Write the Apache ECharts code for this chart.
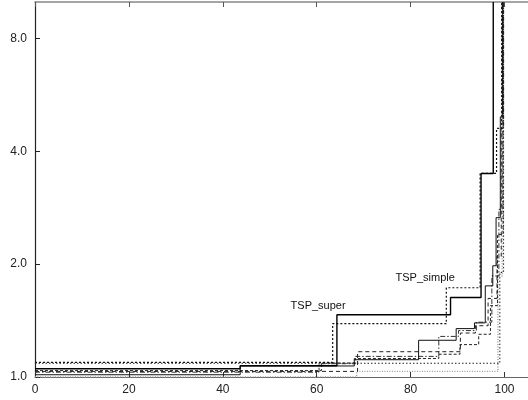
<!DOCTYPE html>
<html>
<head>
<meta charset="utf-8">
<script src="https://cdn.jsdelivr.net/npm/echarts@6/dist/echarts.min.js"></script>
<style>html,body{margin:0;padding:0;background:#fff}#c{width:528px;height:400px}</style>
</head>
<body>
<div id="c"></div>
<script>
// x: percentage of problems, y: performance ratio (log scale)
const xTicks = [0, 20, 40, 60, 80, 100];
const yTicks = [1, 2, 4, 8];
const tspSuper  = [[0,1.052],[43.7,1.072],[64.3,1.466],[88.5,1.63],[95.0,3.49],[97.6,10]];
const tspSimple = [[0,1.094],[63.4,1.387],[87.6,1.73],[94.8,3.49],[98.3,4.6],[99.4,10]];
const solidLow  = [[0,1.014],[43.7,1.07],[68.0,1.112],[81.7,1.253],[89.7,1.346],[93.6,1.394],[95.9,1.75],[97.5,1.98],[98.2,2.66],[99.1,4.94],[99.6,10]];
const dashedA   = [[0,1.035],[68.7,1.168],[90.6,1.31],[93.8,1.37],[96.5,1.62],[98.4,2.1],[99.3,4.6],[99.8,10]];
const dashDot   = [[0,1.03],[60.5,1.085],[68.3,1.135],[86.0,1.283],[90.2,1.33],[94.0,1.4],[97.3,1.86],[98.8,2.8],[99.5,10]];
const dashedB   = [[0,1.04],[61.0,1.09],[68.0,1.12],[86.0,1.15],[90.5,1.22],[94.5,1.3],[97.0,1.55],[98.5,2.4],[99.7,10]];
const dottedLow = [[0,1.088],[99.0,1.9],[99.8,10]];
const grayLine  = [[0,1.0],[68.5,1.035],[98.6,1.86],[99.5,10]];
const labelSuper  = {text: 'TSP_super',  at: [60.3, 1.546]};
const labelSimple = {text: 'TSP_simple', at: [83.1, 1.836]};

function mk(data, color, width, type, mark) {
  const s = {
    type: 'line', step: 'end', data: data, showSymbol: false, symbol: 'none',
    lineStyle: {color: color, width: width, type: type}, z: 2, silent: true
  };
  if (mark) {
    s.markPoint = {
      symbol: 'circle', symbolSize: 0, silent: true,
      data: [{coord: mark.at, value: mark.text}],
      label: {show: true, position: 'inside', formatter: mark.text,
              color: '#111', fontSize: 11, fontFamily: 'Liberation Sans, Arial, sans-serif'}
    };
  }
  return s;
}

const chart = echarts.init(document.getElementById('c'), null, {renderer: 'canvas'});
const lbl = {color: '#222', fontSize: 12, fontFamily: 'Liberation Sans, Arial, sans-serif'};
chart.setOption({
  animation: false,
  grid: {left: 35, right: 0, top: 2, bottom: 23, containLabel: false},
  xAxis: [{
    type: 'value', min: 0, max: 105, interval: 20, position: 'bottom',
    axisLine: {show: true, lineStyle: {color: '#666', width: 1.2}},
    axisTick: {show: true, inside: true, length: 5, lineStyle: {color: '#333'}},
    axisLabel: Object.assign({margin: 7, showMaxLabel: false,
      formatter: v => xTicks.indexOf(v) >= 0 ? String(v) : ''}, lbl),
    splitLine: {show: false}
  }, {
    type: 'value', min: 0, max: 105, interval: 20, position: 'top',
    axisLine: {show: true, lineStyle: {color: '#888', width: 1.5}},
    axisTick: {show: true, inside: true, length: 5, lineStyle: {color: '#555'}},
    axisLabel: {show: false}, splitLine: {show: false}
  }],
  yAxis: {
    type: 'log', logBase: 2, min: 1, max: 10,
    axisLine: {show: true, lineStyle: {color: '#222', width: 1.2}},
    axisTick: {show: true, inside: true, length: 5, lineStyle: {color: '#222'}},
    axisLabel: Object.assign({margin: 8, showMaxLabel: false,
      formatter: v => {
        const r = Math.round(v * 10) / 10;
        return yTicks.indexOf(r) >= 0 ? r.toFixed(1) : '';
      }}, lbl),
    splitLine: {show: false}
  },
  series: [
    mk(grayLine, '#9a9a9a', 1.4, [1, 1.5]),
    mk(dottedLow, '#222', 1, [1.5, 2]),
    mk(dashedB, '#222', 1, [3, 2]),
    mk(dashDot, '#333', 1, [5, 2, 1.5, 2]),
    mk(dashedA, '#222', 1, [4, 3]),
    mk(solidLow, '#111', 1, 'solid'),
    mk(tspSimple, '#111', 1.2, [2, 2], labelSimple),
    mk(tspSuper, '#000', 1.4, 'solid', labelSuper)
  ]
});
</script>
</body>
</html>
